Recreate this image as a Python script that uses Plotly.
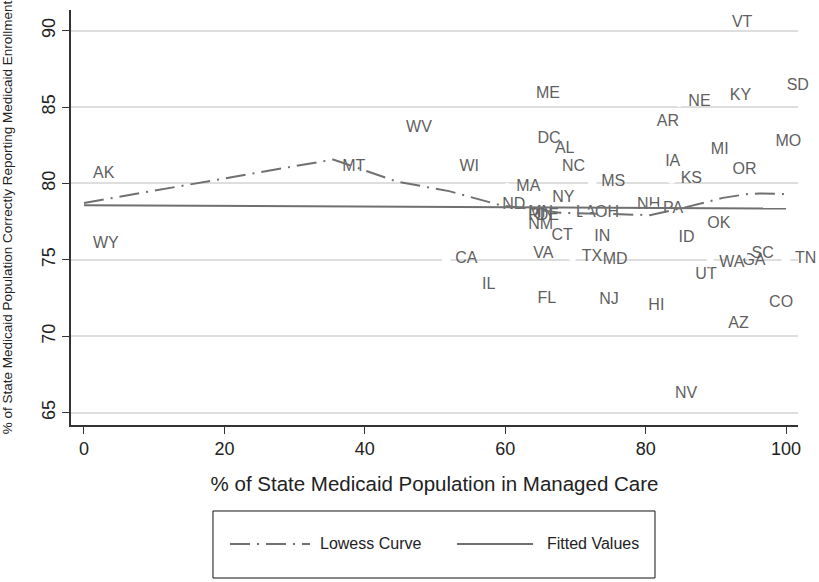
import plotly.graph_objects as go

# ---- data ----
states = ["AK", "AL", "AR", "AZ", "CA", "CO", "CT", "DC", "DE", "FL", "GA", "HI", "IA",
          "ID", "IL", "IN", "KS", "KY", "LA", "MA", "MD", "ME", "MI", "MN", "MO", "MS",
          "MT", "NC", "ND", "NE", "NH", "NJ", "NM", "NV", "NY", "OH", "OK", "OR", "PA",
          "RI", "SC", "SD", "TN", "TX", "UT", "VA", "VT", "WA", "WI", "WV", "WY"]
managed_care = [0.0, 65.8, 80.3, 90.5, 51.6, 96.3, 65.3, 63.3, 63.2, 63.3, 92.5, 79.1, 81.5,
                83.4, 55.4, 71.4, 83.7, 90.7, 68.8, 60.3, 72.6, 63.1, 88.0, 62.0, 97.2, 72.4,
                35.5, 66.8, 58.3, 84.8, 77.5, 72.1, 62.0, 82.9, 65.4, 71.5, 87.5, 91.1, 81.2,
                62.0, 93.8, 98.8, 100.0, 69.6, 85.8, 62.7, 91.0, 89.2, 52.2, 44.6, 0.0]
correct_pct = [80.65, 82.24, 84.03, 70.84, 75.03, 72.15, 76.55, 82.94, 77.86, 72.47, 74.93, 71.97, 81.41,
               76.44, 73.34, 76.47, 80.28, 85.73, 78.10, 79.74, 74.98, 85.85, 82.18, 78.10, 82.72, 80.12,
               81.05, 81.05, 78.58, 85.30, 78.58, 72.36, 77.27, 66.26, 79.02, 78.04, 77.32, 80.87, 78.36,
               77.90, 75.37, 86.37, 75.03, 75.20, 74.04, 75.37, 90.47, 74.80, 81.09, 83.60, 76.07]

lowess_x = [0, 35.5, 44.6, 52.0, 59.3, 63.5, 67.8, 73.5, 80.6, 85.9, 91.0, 94.4, 96.3, 100]
lowess_y = [78.73, 81.57, 80.12, 79.50, 78.58, 78.32, 78.09, 78.02, 77.93, 78.47, 79.06, 79.30, 79.35, 79.31]

fit_x = [0, 100]
fit_y = [78.58, 78.36]

x_ticks = [0, 20, 40, 60, 80, 100]
y_ticks = [65, 70, 75, 80, 85, 90]

FONT = "Liberation Sans, Arial, Helvetica, sans-serif"
LABEL_COLOR = "#5f5f5f"
LINE_COLOR = "#707070"

fig = go.Figure()

# per-observation marker (white, hides gridlines) + label, drawn in order
for s, xv, yv in zip(states, managed_care, correct_pct):
    fig.add_trace(go.Scatter(
        x=[xv], y=[yv], mode="markers",
        marker=dict(size=9, color="white", line=dict(width=0)),
        showlegend=False, hoverinfo="skip", cliponaxis=False))
    fig.add_trace(go.Scatter(
        x=[xv], y=[yv], mode="markers+text", text=[s],
        textposition="middle right",
        textfont=dict(family=FONT, size=16, color=LABEL_COLOR),
        marker=dict(size=12.8, color="rgba(0,0,0,0)", line=dict(width=0)),
        showlegend=False, hoverinfo="skip", cliponaxis=False))

fig.add_trace(go.Scatter(
    x=lowess_x, y=lowess_y, mode="lines", name="Lowess Curve",
    line=dict(color=LINE_COLOR, width=2, dash="20px,7px,2px,7px"),
    showlegend=False))
fig.add_trace(go.Scatter(
    x=fit_x, y=fit_y, mode="lines", name="Fitted Values",
    line=dict(color=LINE_COLOR, width=2),
    showlegend=False))

# ---- manual legend (Stata style box below the plot) ----
leg_y = -0.2867
fig.add_shape(type="rect", xref="paper", yref="paper",
              x0=0.1953, x1=0.8033, y0=-0.3687, y1=-0.2072,
              line=dict(color="#111111", width=1), fillcolor="white", layer="above")
fig.add_shape(type="line", xref="paper", yref="paper",
              x0=0.2187, x1=0.3287, y0=leg_y, y1=leg_y,
              line=dict(color=LINE_COLOR, width=2, dash="20px,7px,2px,7px"))
fig.add_shape(type="line", xref="paper", yref="paper",
              x0=0.5310, x1=0.6355, y0=leg_y, y1=leg_y,
              line=dict(color=LINE_COLOR, width=2))
fig.add_annotation(text="Lowess Curve", xref="paper", yref="paper",
                   x=0.3398, y=leg_y, xanchor="left", yanchor="middle", showarrow=False,
                   font=dict(family=FONT, size=16, color="#222222"))
fig.add_annotation(text="Fitted Values", xref="paper", yref="paper",
                   x=0.6520, y=leg_y, xanchor="left", yanchor="middle", showarrow=False,
                   font=dict(family=FONT, size=16, color="#222222"))

fig.update_layout(
    width=819, height=582,
    margin=dict(l=71, r=21, t=10, b=157, autoexpand=False),
    paper_bgcolor="white", plot_bgcolor="white",
    font=dict(family=FONT, color="#222222"),
    showlegend=False,
)
fig.update_xaxes(
    range=[-1.85, 101.7], tickvals=x_ticks, ticktext=[str(v) for v in x_ticks],
    ticks="outside", ticklen=7, tickwidth=1.3, tickcolor="#333333",
    showline=True, linecolor="#333333", linewidth=1.5,
    showgrid=False, zeroline=False,
    tickfont=dict(family=FONT, size=18, color="#222222"),
    title=dict(text="% of State Medicaid Population in Managed Care",
               font=dict(family=FONT, size=20.5, color="#222222"), standoff=18),
    automargin=False,
)
fig.update_yaxes(
    range=[64.2, 91.35], tickvals=y_ticks, ticktext=[str(v) for v in y_ticks],
    tickangle=-90,
    ticks="outside", ticklen=7, tickwidth=1.3, tickcolor="#333333",
    showline=True, linecolor="#333333", linewidth=1.5,
    showgrid=True, gridcolor="#dedede", gridwidth=1.5, zeroline=False,
    tickfont=dict(family=FONT, size=18, color="#222222"),
    title=dict(text="% of State Medicaid Population Correctly Reporting Medicaid Enrollment",
               font=dict(family=FONT, size=13.5, color="#222222"), standoff=30),
    automargin=False,
)

fig.write_html("out.html")
